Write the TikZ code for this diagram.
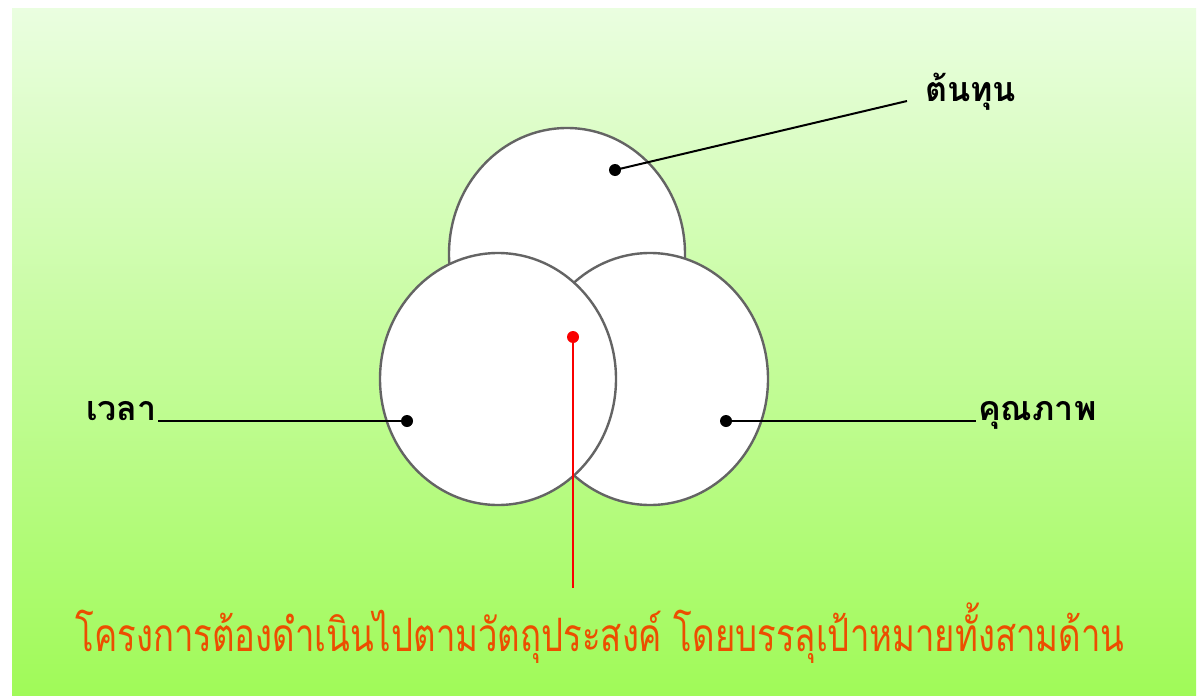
\documentclass[tikz,border=0pt]{standalone}
\usepackage{fontspec}
\newfontfamily\thaifont[Script=Thai]{Loma}
\newfontfamily\thaicond[Script=Thai,FakeStretch=0.755]{Loma}
\usetikzlibrary{shapes.geometric}
\definecolor{bgtop}{RGB}{234,254,224}
\definecolor{bgmid}{RGB}{198,253,158}
\definecolor{bgbot}{RGB}{160,250,88}
\definecolor{rimgray}{RGB}{100,100,100}
\definecolor{redtext}{RGB}{236,78,0}
\definecolor{reddot}{RGB}{250,0,0}
\tikzset{
  blob/.style={ellipse, draw=rimgray, line width=2.4pt, fill=white, minimum width=236pt, minimum height=252pt, inner sep=0pt},
  dotb/.style={circle, fill=black, minimum size=12pt, inner sep=0pt},
  dotr/.style={circle, fill=reddot, minimum size=12pt, inner sep=0pt},
  lbl/.style={font=\thaifont\bfseries\fontsize{34}{40}\selectfont, text=black, inner sep=0pt},
  captext/.style={font=\thaicond\fontsize{46}{54}\selectfont, text=redtext, inner sep=0pt},
  conn/.style={line width=2pt, black},
  connr/.style={line width=2pt, reddot},
}
\begin{document}
\begin{tikzpicture}[x=1pt,y=-1pt]
\useasboundingbox (0,0) rectangle (1200,696);
\fill[white] (0,0) rectangle (1200,696);
\shade[top color=bgtop, middle color=bgmid, bottom color=bgbot] (12,8) rectangle (1196,696);
\node[blob] (top) at (567,254) {};
\node[blob] (right) at (650,379) {};
\node[blob] (left) at (498,379) {};
\node[dotb] (dtop) at (615,170) {};
\node[dotb] (dleft) at (407,421) {};
\node[dotb] (dright) at (726,421) {};
\node[dotr] (dmid) at (573,337) {};
\node[lbl, anchor=base west] (ltop) at (925,101) {ต้นทุน};
\node[lbl, anchor=base west] (lleft) at (86,420) {เวลา};
\node[lbl, anchor=base west] (lright) at (978,420) {คุณภาพ};
\node[captext, anchor=base] (lcap) at (600,651) {โครงการต้องดำเนินไปตามวัตถุประสงค์ โดยบรรลุเป้าหมายทั้งสามด้าน};
\coordinate (etop) at (907,101);
\coordinate (eleft) at (158,421);
\coordinate (eright) at (976,421);
\coordinate (emid) at (573,588);
\draw[conn] (dtop.center) -- (etop);
\draw[conn] (dleft.center) -- (eleft);
\draw[conn] (dright.center) -- (eright);
\draw[connr] (dmid.center) -- (emid);
\end{tikzpicture}
\end{document}
